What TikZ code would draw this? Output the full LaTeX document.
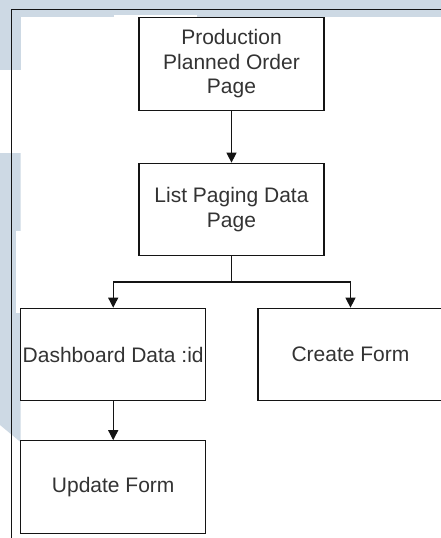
\documentclass[tikz,border=0pt]{standalone}
\usepackage{fontspec}
\setmainfont{Liberation Sans}
\usetikzlibrary{arrows.meta}
\definecolor{wm}{RGB}{205,217,228}
\definecolor{txt}{RGB}{51,51,51}
\definecolor{ln}{RGB}{20,20,20}
\tikzset{
  box/.style={draw=ln, line width=1.2pt, fill=white, minimum width=185pt, minimum height=92.5pt,
    inner sep=0pt, align=center, text=txt, font=\fontsize{21}{24.5}\selectfont},
  conn/.style={draw=ln, line width=1.2pt, -{Triangle[width=10pt,length=10pt]}},
  plain/.style={draw=ln, line width=1.2pt}
}
\begin{document}
\begin{tikzpicture}[x=1pt,y=-1pt]
\useasboundingbox (0,0) rectangle (441,538);
% background and watermark pieces
\fill[white] (0,0) rectangle (441,538);
\fill[wm] (0,0) rectangle (441,9.5);
\fill[wm] (11.5,9.5) rectangle (441,17);
\fill[white] (114,14.5) rectangle (197,17);
\fill[wm] (0,0) rectangle (20.5,70);
\fill[wm] (0,153) -- (20.5,153) -- (20.5,442) -- (0,425) -- cycle;
\fill[white] (15.5,231) rectangle (20.5,313);
% page frame
\draw[ln, line width=1.2pt] (441,9.5) -- (11.5,9.5) -- (11.5,538);
% nodes
\node[box] (p) at (231.5,64) {Production\\Planned Order\\Page};
\node[box] (l) at (231.5,209.5) {List Paging Data\\Page};
\node[box] (d) at (113.2,354.5) {Dashboard Data :id};
\node[box] (c) at (350.5,354.5) {Create Form};
\node[box] (u) at (113.2,487) {Update Form};
\coordinate (j) at (231.5,282);
% connectors
\draw[conn] (p) -- (l);
\draw[plain] (l.south) -- (j);
\draw[conn] (j) -| (d.north);
\draw[conn] (j) -| (c.north);
\draw[conn] (d) -- (u);
\end{tikzpicture}
\end{document}
